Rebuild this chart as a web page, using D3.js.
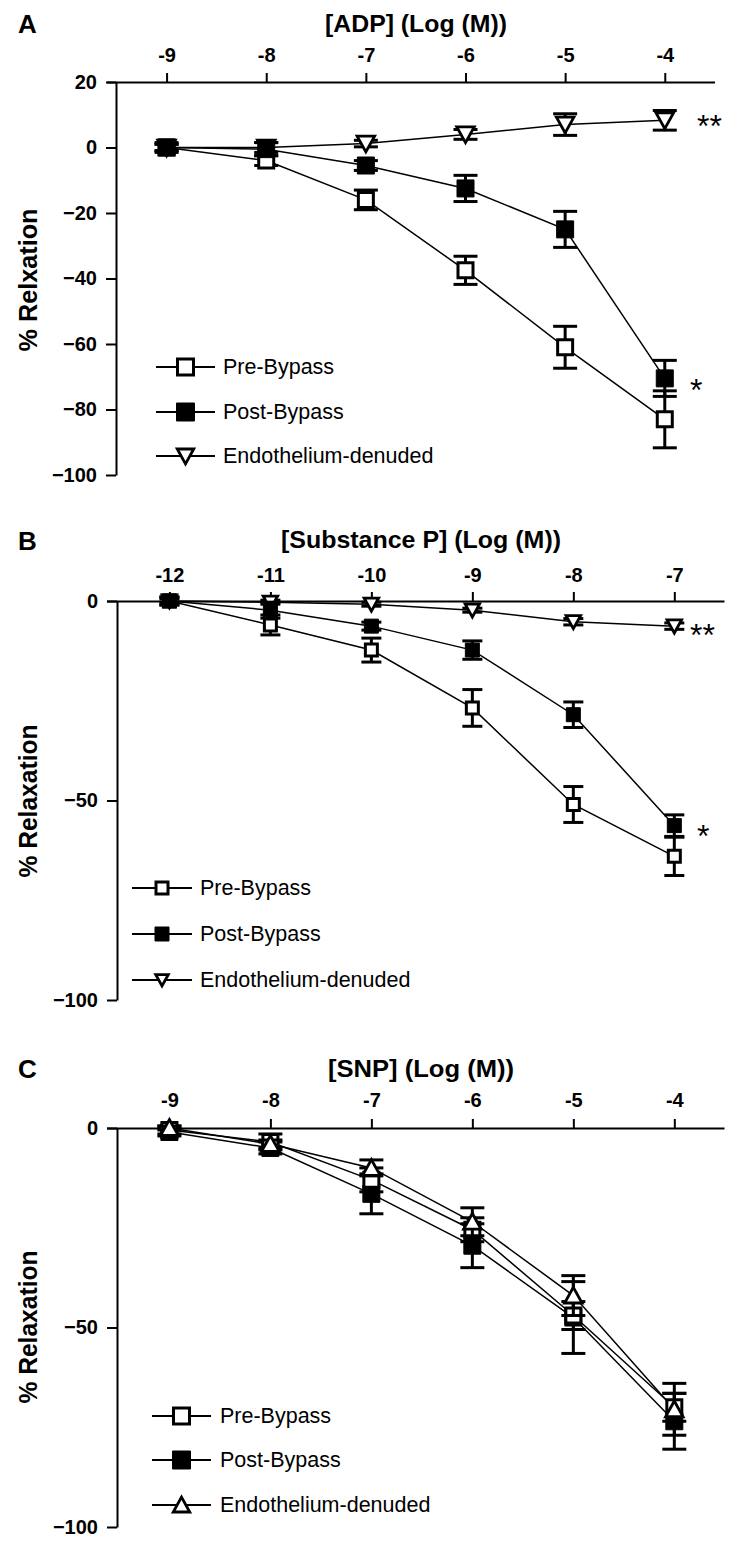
<!DOCTYPE html>
<html><head><meta charset="utf-8">
<script src="https://cdn.jsdelivr.net/npm/d3@7"></script>
<style>body{margin:0;background:#fff} svg{display:block}</style>
</head><body>
<script>
// ---------- DATA ----------
const seriesNames = ["Pre-Bypass", "Post-Bypass", "Endothelium-denuded"];

// Panel A : ADP
const doseA = [-9, -8, -7, -6, -5, -4];
const preA = [0, -4, -16, -37.5, -61, -83];
const preErrA = [1, 1.5, 3, 4.3, 6.4, 8.7];
const postA = [0, -0.5, -5.5, -12.5, -25, -70.5];
const postErrA = [1.5, 2, 1.5, 4, 5.5, 5.5];
const endoA = [0, 0, 1.2, 4, 7, 8.3];
const endoErrA = [1, 1.5, 1, 1.5, 3.3, 3];
const yTicksA = [20, 0, -20, -40, -60, -80, -100];

// Panel B : Substance P
const doseB = [-12, -11, -10, -9, -8, -7];
const preB = [0, -6, -12.3, -26.8, -51, -64];
const preErrB = [1, 2.5, 3, 4.6, 4.5, 4.8];
const postB = [0, -2.3, -6.3, -12.3, -28.5, -56.3];
const postErrB = [1, 2, 1, 2.3, 3.2, 2.7];
const endoB = [0, -0.3, -0.8, -2.3, -5.2, -6.3];
const endoErrB = [0.5, 0.5, 0.5, 0.5, 0.8, 0.8];
const yTicksB = [0, -50, -100];

// Panel C : SNP
const doseC = [-9, -8, -7, -6, -5, -4];
const preC = [-0.5, -3.5, -13, -25.5, -47, -70];
const preErrC = [1, 2, 3, 3, 3.5, 3.5];
const postC = [-1, -5, -16.5, -29.5, -47.5, -73.5];
const postErrC = [1, 1.5, 5, 5.5, 9, 7];
const endoC = [0, -4, -10, -23.5, -42, -70.5];
const endoErrC = [0.5, 1, 2, 3.5, 5, 6.5];
const yTicksC = [0, -50, -100];

// ---------- DRAW ----------
const W = 733, H = 1546;
const FONT = "'Liberation Sans', Arial, Helvetica, sans-serif";
const svg = d3.select("body").append("svg").attr("width", W).attr("height", H)
  .style("font-family", FONT);

function symPath(shape, s) {
  const h = s / 2;
  if (shape === "square") return `M${-h},${-h}H${h}V${h}H${-h}Z`;
  if (shape === "down") return `M${-h},${-h * 0.85}H${h}L0,${h * 0.95}Z`;
  return `M${-h},${h * 0.85}H${h}L0,${-h * 0.95}Z`;
}

function drawMarker(g, shape, filled, s, cx, cy) {
  if (shape === "square" && filled) {
    g.append("path").attr("d", symPath(shape, s - 1)).attr("transform", `translate(${cx},${cy})`)
      .attr("fill", "#000").attr("stroke", "#000").attr("stroke-width", 1);
  } else if (shape === "square") {
    g.append("path").attr("d", symPath(shape, s - 3)).attr("transform", `translate(${cx},${cy})`)
      .attr("fill", "#fff").attr("stroke", "#000").attr("stroke-width", 3);
  } else {
    g.append("path").attr("d", symPath(shape, s - 2.5)).attr("transform", `translate(${cx},${cy})`)
      .attr("fill", "#fff").attr("stroke", "#000").attr("stroke-width", 2.8).attr("stroke-linejoin", "miter");
  }
}

function panel(cfg) {
  const g = svg.append("g");
  const x = d3.scaleLinear().domain(cfg.xDom).range(cfg.xRange);
  const y = d3.scaleLinear().domain(cfg.yDom).range(cfg.yRange);
  const axisY = cfg.yRange[0];

  // x axis (top)
  const xa = g.append("g").attr("transform", `translate(0,${axisY})`)
    .call(d3.axisTop(x).tickValues(cfg.dose).tickSize(9).tickSizeOuter(0).tickFormat(d => d));
  xa.select(".domain").attr("stroke-width", 2);
  xa.selectAll(".tick line").attr("stroke-width", 2);
  xa.selectAll(".tick text").attr("y", cfg.xLabelDy).attr("dy", 0)
    .attr("font-size", 20).attr("font-weight", "bold").attr("font-family", FONT).attr("fill", "#000");

  // y axis
  const ya = g.append("g").attr("transform", `translate(${cfg.yAxisX},0)`)
    .call(d3.axisLeft(y).tickValues(cfg.yTicks).tickSize(10).tickSizeOuter(0).tickPadding(9));
  ya.select(".domain").attr("stroke-width", 2);
  ya.selectAll(".tick line").attr("stroke-width", 2);
  ya.selectAll(".tick text").attr("font-size", 20).attr("font-weight", "bold")
    .attr("font-family", FONT).attr("fill", "#000");

  // panel letter
  g.append("text").attr("x", 18).attr("y", cfg.letterY).text(cfg.letter)
    .attr("font-size", 26).attr("font-weight", "bold");

  // title
  g.append("text").attr("x", cfg.titleX).attr("y", cfg.titleY).attr("text-anchor", "middle")
    .attr("font-size", 24).attr("font-weight", "bold").text(cfg.title)
    .attr("textLength", cfg.titleW).attr("lengthAdjust", "spacingAndGlyphs");

  // y label
  g.append("text").attr("transform", `translate(37,${cfg.yLabelY}) rotate(-90)`)
    .attr("text-anchor", "middle").attr("font-size", 25).attr("font-weight", "bold")
    .text(cfg.yLabel).attr("textLength", cfg.yLabelW).attr("lengthAdjust", "spacingAndGlyphs");

  const line = d3.line().x(d => x(d[0])).y(d => y(d[1]));

  // connecting lines
  cfg.series.forEach(s => {
    g.append("path").datum(cfg.dose.map((d, i) => [d, s.vals[i]]))
      .attr("d", line).attr("fill", "none").attr("stroke", "#000").attr("stroke-width", 1.5);
  });

  // error bars + markers in draw order
  cfg.order.forEach(k => {
    const s = cfg.series[k];
    const eg = g.append("g").attr("stroke", "#000").attr("stroke-width", 3);
    cfg.dose.forEach((d, i) => {
      const e = s.errs[i];
      if (!e) return;
      const cx = x(d), y1 = y(s.vals[i] - e), y2 = y(s.vals[i] + e), cw = cfg.capW / 2;
      eg.append("line").attr("x1", cx).attr("x2", cx).attr("y1", y1).attr("y2", y2);
      eg.append("line").attr("x1", cx - cw).attr("x2", cx + cw).attr("y1", y1).attr("y2", y1);
      eg.append("line").attr("x1", cx - cw).attr("x2", cx + cw).attr("y1", y2).attr("y2", y2);
    });
    const mg = g.append("g");
    cfg.dose.forEach((d, i) => drawMarker(mg, s.shape, s.filled, s.shape === "square" ? cfg.mSize : cfg.tSize, x(d), y(s.vals[i])));
  });

  // legend
  cfg.series.forEach((s, k) => {
    const ly = cfg.legY[k];
    g.append("line").attr("x1", cfg.legX[0]).attr("x2", cfg.legX[1]).attr("y1", ly).attr("y2", ly)
      .attr("stroke", "#000").attr("stroke-width", 1.8);
    drawMarker(g, s.shape, s.filled, cfg.legM, (cfg.legX[0] + cfg.legX[1]) / 2, ly);
    g.append("text").attr("x", cfg.legTextX).attr("y", ly + 7).attr("font-size", 21.5)
      .text(seriesNames[k]);
  });

  // significance marks
  cfg.stars.forEach(st => {
    g.append("text").attr("x", st[1]).attr("y", st[2]).attr("font-size", 32).text(st[0]);
  });
}

panel({
  letter: "A", letterY: 33, title: "[ADP] (Log (M))", titleX: 416, titleY: 32, titleW: 182,
  yLabel: "% Relxation", yLabelW: 143, yLabelY: 280,
  dose: doseA, yTicks: yTicksA,
  xDom: [-9.603, -3.501], xRange: [106.5, 714.5], yDom: [20, -100], yRange: [82, 475], yAxisX: 116,
  xLabelDy: -20,
  series: [
    { vals: preA, errs: preErrA, shape: "square", filled: false },
    { vals: postA, errs: postErrA, shape: "square", filled: true },
    { vals: endoA, errs: endoErrA, shape: "down", filled: false }
  ],
  order: [2, 0, 1], mSize: 18, tSize: 20, capW: 24,
  legX: [156, 215], legY: [367, 412, 456], legM: 19, legTextX: 223,
  stars: [["**", 697, 137], ["*", 690, 401]]
});

panel({
  letter: "B", letterY: 550, title: "[Substance P] (Log (M))", titleX: 421, titleY: 548, titleW: 280,
  yLabel: "% Relaxation", yLabelW: 153, yLabelY: 801,
  dose: doseB, yTicks: yTicksB,
  xDom: [-12.623, -6.508], xRange: [106.5, 724], yDom: [0, -100], yRange: [601, 1000], yAxisX: 117,
  xLabelDy: -19,
  series: [
    { vals: preB, errs: preErrB, shape: "square", filled: false },
    { vals: postB, errs: postErrB, shape: "square", filled: true },
    { vals: endoB, errs: endoErrB, shape: "down", filled: false }
  ],
  order: [2, 0, 1], mSize: 15, tSize: 17, capW: 20,
  legX: [132, 192], legY: [888, 934, 980], legM: 15, legTextX: 200,
  stars: [["**", 690, 646], ["*", 697, 847]]
});

panel({
  letter: "C", letterY: 1078, title: "[SNP] (Log (M))", titleX: 421, titleY: 1077, titleW: 186,
  yLabel: "% Relaxation", yLabelW: 153, yLabelY: 1327,
  dose: doseC, yTicks: yTicksC,
  xDom: [-9.623, -3.508], xRange: [106.5, 724], yDom: [0, -100], yRange: [1128, 1527], yAxisX: 117,
  xLabelDy: -21,
  series: [
    { vals: preC, errs: preErrC, shape: "square", filled: false },
    { vals: postC, errs: postErrC, shape: "square", filled: true },
    { vals: endoC, errs: endoErrC, shape: "up", filled: false }
  ],
  order: [1, 0, 2], mSize: 18, tSize: 20, capW: 24,
  legX: [152, 211], legY: [1416, 1460, 1505], legM: 19, legTextX: 220,
  stars: []
});
</script>
</body></html>
